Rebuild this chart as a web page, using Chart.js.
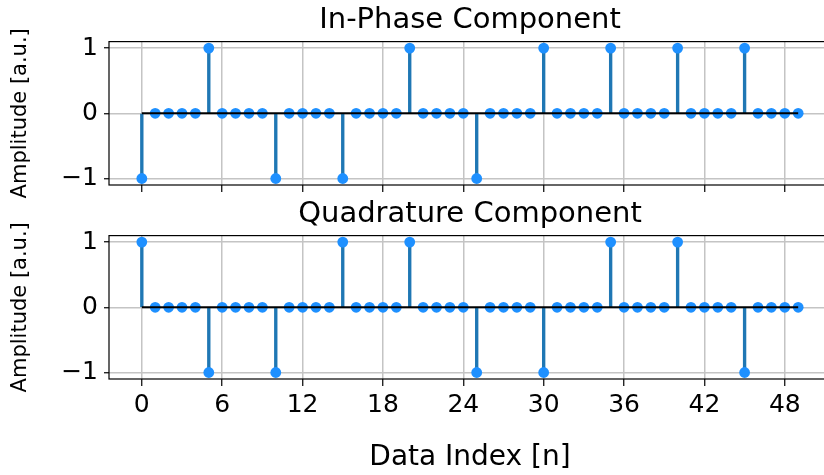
<!DOCTYPE html>
<html>
<head>
<meta charset="utf-8">
<script src="https://cdn.jsdelivr.net/npm/chart.js@4.4.1/dist/chart.umd.min.js"></script>
<style>
  html, body { margin: 0; padding: 0; background: #fff; overflow: hidden; width: 824px; height: 475px; }
  canvas { position: absolute; left: 0; }
  #inphase { top: 0; }
  #quad { top: 194px; }
</style>
</head>
<body>
<canvas id="inphase" width="831" height="200"></canvas>
<canvas id="quad" width="831" height="281"></canvas>
<script>
// Symbol sequences, one sample per data index n
const inPhase = [
  -1, 0, 0, 0, 0,  1, 0, 0, 0, 0,
  -1, 0, 0, 0, 0, -1, 0, 0, 0, 0,
   1, 0, 0, 0, 0, -1, 0, 0, 0, 0,
   1, 0, 0, 0, 0,  1, 0, 0, 0, 0,
   1, 0, 0, 0, 0,  1, 0, 0, 0, 0
];
const quadrature = [
   1, 0, 0, 0, 0, -1, 0, 0, 0, 0,
  -1, 0, 0, 0, 0,  1, 0, 0, 0, 0,
   1, 0, 0, 0, 0, -1, 0, 0, 0, 0,
  -1, 0, 0, 0, 0,  1, 0, 0, 0, 0,
   1, 0, 0, 0, 0, -1, 0, 0, 0, 0
];
const xTicks = [0, 6, 12, 18, 24, 30, 36, 42, 48];
const yTicks = [-1, 0, 1];

Chart.defaults.font.family = 'DejaVu Sans';
Chart.defaults.color = '#000';

const markerColor = '#1e90ff';
const stemColor = '#1f77b4';
const gridColor = '#c4c4c4';

// box around the plot area (matplotlib-style spines)
const frame = {
  id: 'frame',
  afterDraw(chart) {
    const a = chart.chartArea;
    const ctx = chart.ctx;
    ctx.save();
    ctx.strokeStyle = '#000';
    ctx.lineWidth = 1.2;
    ctx.strokeRect(a.left, a.top, a.right - a.left, a.bottom - a.top);
    ctx.restore();
  }
};

function minusLabel(v) {
  return v < 0 ? '\u2212' + Math.abs(v) : String(v);
}

function stemChart(id, title, values, bottom) {
  const pts = values.map((v, n) => ({ x: n, y: v }));
  return new Chart(document.getElementById(id), {
    type: 'bar',
    data: {
      datasets: [
        {
          // baseline
          type: 'line',
          data: [{ x: 0, y: 0 }, { x: values.length - 1, y: 0 }],
          borderColor: '#000',
          borderWidth: 2,
          pointRadius: 0,
          order: 0
        },
        {
          // markers
          type: 'scatter',
          data: pts,
          backgroundColor: markerColor,
          borderWidth: 0,
          pointRadius: 5.4,
          order: 1
        },
        {
          // stems
          type: 'bar',
          data: pts,
          backgroundColor: stemColor,
          barThickness: 2.7,
          borderWidth: 0,
          order: 2
        }
      ]
    },
    options: {
      responsive: false,
      animation: false,
      events: [],
      layout: { autoPadding: false, padding: 0 },
      plugins: {
        legend: { display: false },
        tooltip: { enabled: false },
        title: {
          display: true,
          text: title,
          fullSize: false,
          font: { size: 29, weight: 'normal' },
          color: '#000',
          padding: { top: 3, bottom: 3.8 }
        }
      },
      scales: {
        x: {
          type: 'linear',
          offset: false,
          min: -2.45,
          max: 51.45,
          afterBuildTicks: s => { s.ticks = xTicks.map(v => ({ value: v })); },
          afterFit: s => {
            s.height = bottom ? 96 : 15;
            s.paddingLeft = 0; s.paddingRight = 0;
          },
          grid: { offset: false, color: gridColor, lineWidth: 1.5, tickColor: '#000', tickWidth: 1.2, tickLength: 7 },
          border: { display: false },
          ticks: { display: bottom, font: { size: 25 }, padding: 4, maxRotation: 0 },
          title: {
            display: bottom,
            text: 'Data Index [n]',
            font: { size: 28 },
            padding: { top: 0, bottom: 0 }
          }
        },
        y: {
          type: 'linear',
          min: -1.1,
          max: 1.1,
          afterBuildTicks: s => { s.ticks = yTicks.map(v => ({ value: v })); },
          afterFit: s => {
            s.width = 109;
            s.paddingTop = 0; s.paddingBottom = 0;
          },
          grid: { color: gridColor, lineWidth: 1.5, tickColor: '#000', tickWidth: 1.2, tickLength: 5 },
          border: { display: false },
          ticks: { font: { size: 25 }, padding: 6, callback: minusLabel },
          title: {
            display: true,
            text: 'Amplitude [a.u.]',
            font: { size: 21 },
            padding: { top: 8, bottom: 0 }
          }
        }
      }
    },
    plugins: [frame]
  });
}

stemChart('inphase', 'In-Phase Component', inPhase, false);
stemChart('quad', 'Quadrature Component', quadrature, true);
</script>
</body>
</html>
